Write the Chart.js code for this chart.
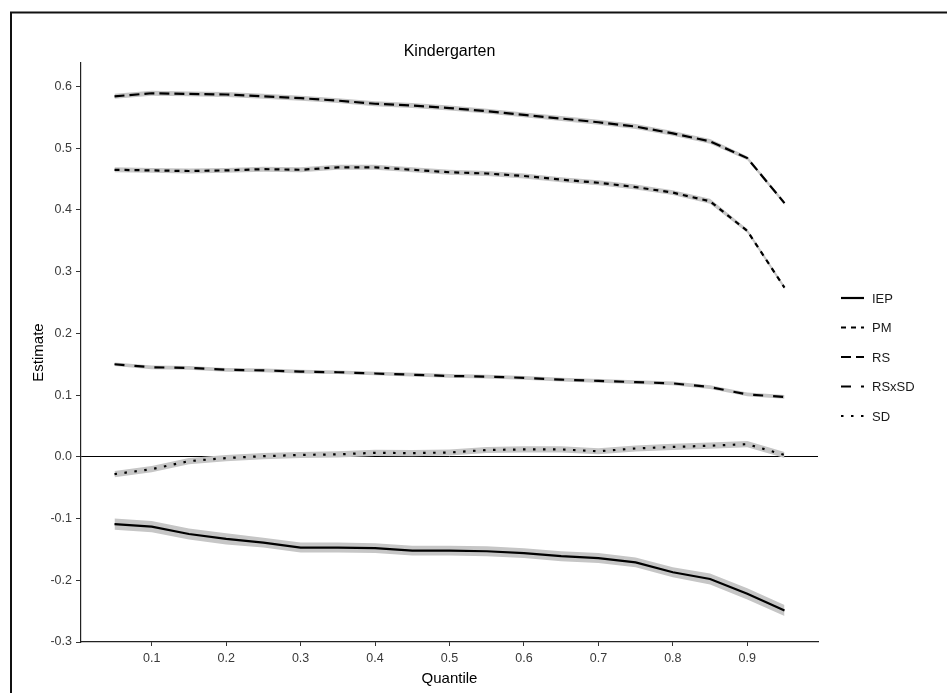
<!DOCTYPE html>
<html>
<head>
<meta charset="utf-8">
<title>Kindergarten</title>
<script src="https://cdn.jsdelivr.net/npm/chart.js@4.4.0/dist/chart.umd.min.js"></script>
<style>
    body { margin: 0; background: #fff; }
    #wrap { width: 947px; height: 693px; position: relative; }
</style>
</head>
<body>
<div id="wrap"><canvas id="quantile-chart"></canvas></div>
<script>
// --- Quantile regression estimates, one array per predictor ---
const quantiles = [0.05, 0.10, 0.15, 0.20, 0.25, 0.30, 0.35, 0.40, 0.45, 0.50,
                   0.55, 0.60, 0.65, 0.70, 0.75, 0.80, 0.85, 0.90, 0.95];

const iep   = [-0.109, -0.113, -0.125, -0.133, -0.139, -0.147, -0.147, -0.148, -0.152, -0.152,
               -0.153, -0.156, -0.161, -0.164, -0.171, -0.187, -0.198, -0.222, -0.249];
const pm    = [0.465, 0.464, 0.463, 0.464, 0.466, 0.465, 0.469, 0.469, 0.465, 0.461,
               0.459, 0.455, 0.449, 0.444, 0.437, 0.428, 0.414, 0.366, 0.274];
const rs    = [0.584, 0.589, 0.588, 0.587, 0.584, 0.581, 0.577, 0.572, 0.569, 0.565,
               0.560, 0.554, 0.548, 0.542, 0.535, 0.524, 0.511, 0.484, 0.411];
const rsxsd = [0.150, 0.145, 0.144, 0.141, 0.140, 0.138, 0.137, 0.135, 0.133, 0.131,
               0.130, 0.128, 0.125, 0.123, 0.121, 0.119, 0.113, 0.101, 0.097];
const sd    = [-0.028, -0.020, -0.007, -0.002, 0.001, 0.003, 0.004, 0.0065, 0.006, 0.007,
               0.011, 0.012, 0.012, 0.009, 0.0135, 0.016, 0.018, 0.0205, 0.003];

// half-width of the grey confidence ribbon around each estimate
const iepBand   = [0.009, 0.009, 0.009, 0.009, 0.008, 0.008, 0.008, 0.008, 0.008, 0.008,
                   0.008, 0.008, 0.008, 0.008, 0.008, 0.008, 0.009, 0.009, 0.009];
const pmBand    = [0.004, 0.004, 0.004, 0.004, 0.004, 0.004, 0.004, 0.004, 0.004, 0.004,
                   0.004, 0.004, 0.004, 0.004, 0.004, 0.004, 0.004, 0.003, 0.003];
const rsBand    = [0.004, 0.004, 0.004, 0.004, 0.004, 0.004, 0.004, 0.004, 0.004, 0.004,
                   0.004, 0.004, 0.004, 0.004, 0.004, 0.004, 0.004, 0.003, 0.003];
const rsxsdBand = [0.003, 0.003, 0.003, 0.003, 0.003, 0.003, 0.003, 0.003, 0.003, 0.003,
                   0.003, 0.003, 0.003, 0.003, 0.003, 0.003, 0.003, 0.003, 0.003];
const sdBand    = [0.005, 0.005, 0.005, 0.005, 0.005, 0.005, 0.005, 0.005, 0.005, 0.005,
                   0.005, 0.005, 0.005, 0.005, 0.005, 0.005, 0.005, 0.005, 0.005];

const xTicks = [0.1, 0.2, 0.3, 0.4, 0.5, 0.6, 0.7, 0.8, 0.9];
const yTicks = [-0.3, -0.2, -0.1, 0.0, 0.1, 0.2, 0.3, 0.4, 0.5, 0.6];

const FONT = '"Liberation Sans", Arial, sans-serif';
const RIBBON = '#c6c6c6';

const series = [
    { name: 'IEP',   values: iep,   band: iepBand,   dash: [] },
    { name: 'PM',    values: pm,    band: pmBand,    dash: [5, 5] },
    { name: 'RS',    values: rs,    band: rsBand,    dash: [10, 5] },
    { name: 'RSxSD', values: rsxsd, band: rsxsdBand, dash: [10, 10] },
    { name: 'SD',    values: sd,    band: sdBand,    dash: [2.5, 7.5] }
];

function toPoints(vals) {
    return quantiles.map((q, i) => ({ x: q, y: vals[i] }));
}

// estimate lines first (drawn on top), then ribbon pairs
const datasets = series.map(s => ({
    label: s.name,
    data: toPoints(s.values),
    borderColor: '#000',
    borderWidth: 2.2,
    borderDash: s.dash,
    borderCapStyle: 'butt',
    pointRadius: 0,
    tension: 0,
    fill: false,
    order: 0
}));
series.forEach(s => {
    datasets.push({
        label: s.name + ' lower',
        isBand: true,
        data: toPoints(s.values.map((v, i) => v - s.band[i])),
        borderColor: 'rgba(0,0,0,0)',
        borderWidth: 0,
        pointRadius: 0,
        fill: false,
        order: 1
    });
    datasets.push({
        label: s.name + ' upper',
        isBand: true,
        data: toPoints(s.values.map((v, i) => v + s.band[i])),
        borderColor: 'rgba(0,0,0,0)',
        borderWidth: 0,
        pointRadius: 0,
        backgroundColor: RIBBON,
        fill: '-1',
        order: 1
    });
});

// frame, title and line-type legend drawn straight onto the canvas
const decorPlugin = {
    id: 'decor',
    afterDraw(chart) {
        const ctx = chart.ctx;
        const area = chart.chartArea;
        ctx.save();

        // outer frame (left and top edges are inside the canvas)
        ctx.strokeStyle = '#111';
        ctx.lineWidth = 2;
        ctx.beginPath();
        ctx.moveTo(11, chart.height);
        ctx.lineTo(11, 12.5);
        ctx.lineTo(chart.width, 12.5);
        ctx.stroke();

        // title
        ctx.fillStyle = '#000';
        ctx.font = '16px ' + FONT;
        ctx.textAlign = 'center';
        ctx.textBaseline = 'alphabetic';
        ctx.fillText('Kindergarten', (area.left + area.right) / 2, 56);

        // legend
        const keyX = area.right + 23;
        const keyW = 23;
        let rowY = 298;
        ctx.font = '13px ' + FONT;
        ctx.textAlign = 'left';
        ctx.textBaseline = 'middle';
        chart.data.datasets.filter(d => !d.isBand).forEach(d => {
            ctx.strokeStyle = '#000';
            ctx.lineWidth = 2.2;
            ctx.lineCap = 'butt';
            ctx.setLineDash(d.borderDash);
            ctx.beginPath();
            ctx.moveTo(keyX, rowY);
            ctx.lineTo(keyX + keyW, rowY);
            ctx.stroke();
            ctx.setLineDash([]);
            ctx.fillStyle = '#1a1a1a';
            ctx.fillText(d.label, keyX + keyW + 8, rowY + 1);
            rowY += 29.5;
        });
        ctx.restore();
    }
};

new Chart(document.getElementById('quantile-chart'), {
    type: 'line',
    data: { datasets },
    plugins: [decorPlugin],
    options: {
        responsive: true,
        maintainAspectRatio: false,
        animation: false,
        layout: { padding: { left: 0, top: 63, right: 129, bottom: 0 } },
        plugins: { legend: { display: false }, tooltip: { enabled: false } },
        scales: {
            x: {
                type: 'linear',
                min: 0.005,
                max: 0.995,
                afterBuildTicks: s => { s.ticks = xTicks.map(v => ({ value: v })); },
                afterFit: s => { s.height = 51; },
                grid: { drawOnChartArea: false, drawTicks: true, tickLength: 4, tickColor: '#333', tickWidth: 1 },
                border: { display: true, color: '#222', width: 1.2 },
                ticks: {
                    color: '#3a3a3a',
                    font: { family: FONT, size: 12.5 },
                    padding: 5,
                    maxRotation: 0,
                    autoSkip: false,
                    callback: v => v.toFixed(1)
                },
                title: {
                    display: true,
                    text: 'Quantile',
                    color: '#000',
                    font: { family: FONT, size: 15 },
                    padding: { top: 0, bottom: 5 }
                }
            },
            y: {
                type: 'linear',
                min: -0.3,
                max: 0.638,
                afterBuildTicks: s => { s.ticks = yTicks.map(v => ({ value: v })); },
                afterFit: s => { s.width = 81; },
                grid: {
                    drawOnChartArea: true,
                    drawTicks: true,
                    tickLength: 5,
                    tickColor: '#333',
                    lineWidth: 1,
                    color: c => (c.tick && Math.abs(c.tick.value) < 1e-9) ? '#000' : 'rgba(0,0,0,0)'
                },
                border: { display: true, color: '#222', width: 1.2 },
                ticks: {
                    color: '#3a3a3a',
                    font: { family: FONT, size: 12.5 },
                    padding: 4,
                    autoSkip: false,
                    callback: v => v.toFixed(1)
                },
                title: {
                    display: true,
                    text: 'Estimate',
                    color: '#000',
                    font: { family: FONT, size: 15 },
                    padding: { top: 30, bottom: 0 }
                }
            }
        }
    }
});
</script>
</body>
</html>
